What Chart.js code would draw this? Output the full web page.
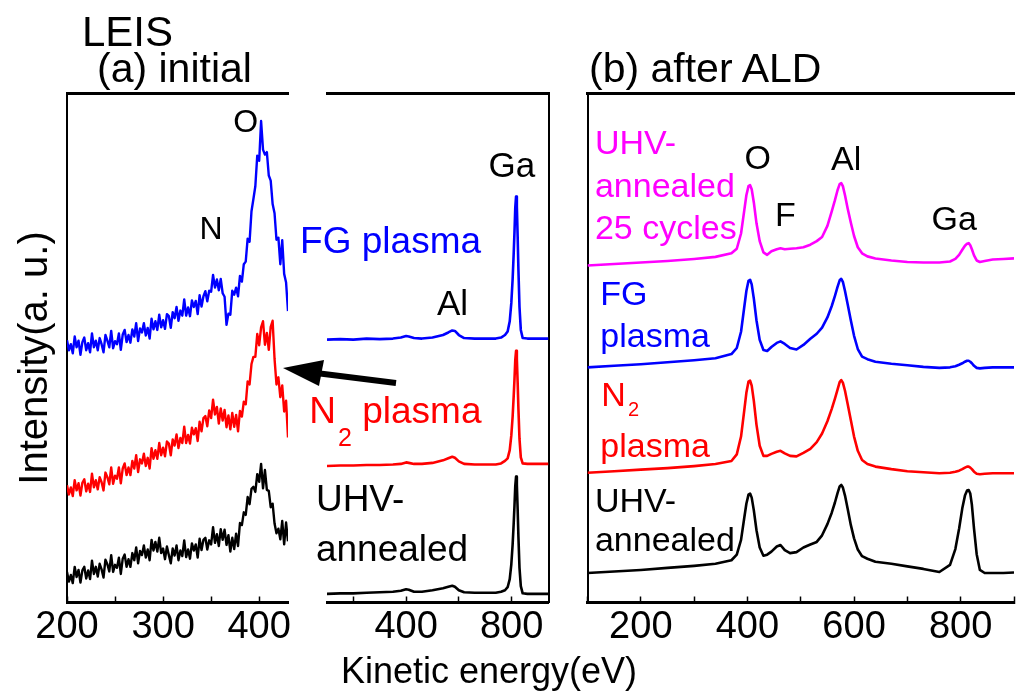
<!DOCTYPE html>
<html><head><meta charset="utf-8">
<script src="https://cdn.jsdelivr.net/npm/chart.js@4/dist/chart.umd.min.js"></script>
<style>
body{margin:0;background:#fff;}
#wrap{position:relative;width:1022px;height:693px;overflow:hidden;font-family:"Liberation Sans",Arial,sans-serif;color:#000;background:#fff;}
canvas{position:absolute;left:0;top:0;}
svg{position:absolute;left:0;top:0;}
.t{position:absolute;white-space:nowrap;line-height:1;}
</style></head><body>
<div id="wrap">
<canvas id="cA" width="1022" height="693"></canvas>
<canvas id="cB" width="1022" height="693"></canvas>
<canvas id="cC" width="1022" height="693"></canvas>
<svg width="1022" height="693">
  <line x1="396" y1="383" x2="316" y2="373" stroke="#000" stroke-width="6"/>
  <polygon points="283,368 324,360 319,386" fill="#000"/>
</svg>
<div class="t" style="left:82px;top:11px;font-size:42px">LEIS</div>
<div class="t" style="left:97px;top:48px;font-size:41px">(a) initial</div>
<div class="t" style="left:589px;top:48px;font-size:41px">(b) after ALD</div>
<div class="t" style="left:489px;top:653px;font-size:36px;transform:translateX(-50%)">Kinetic energy(eV)</div>
<div class="t" style="left:33px;top:358px;font-size:40px;transform:translate(-50%,-50%) rotate(-90deg)">Intensity(a. u.)</div>
</div>
<script>
// ---------- DATA ----------
// (a) initial, zoomed region 200-430 eV (2 eV steps)
const leftEnergy = [200,202,204,206,208,210,212,214,216,218,220,222,224,226,228,230,232,234,236,238,240,242,244,246,248,250,252,254,256,258,260,262,264,266,268,270,272,274,276,278,280,282,284,286,288,290,292,294,296,298,300,302,304,306,308,310,312,314,316,318,320,322,324,326,328,330,332,334,336,338,340,342,344,346,348,350,352,354,356,358,360,362,364,366,368,370,372,374,376,378,380,382,384,386,388,390,392,394,396,398,400,402,404,406,408,410,412,414,416,418,420,422,424,426,428,430];
const leftFG = [51.5,49.5,50.7,48.9,52.2,50.1,51.4,48.6,51.1,52.0,49.5,50.9,49.1,52.8,50.1,51.4,49.5,51.9,50.7,49.1,52.5,51.4,50.1,53.3,49.9,51.3,50.7,52.8,49.6,52.6,53.5,51.1,52.5,51.0,53.6,52.2,54.8,51.3,53.8,53.0,54.8,52.4,53.9,51.8,55.7,53.6,55.2,53.5,56.5,54.0,55.4,53.7,56.6,56.2,53.9,57.0,55.8,58.0,55.3,57.3,56.3,59.5,56.3,57.9,56.2,59.3,58.0,59.2,56.6,60.3,58.1,60.1,61.1,59.1,61.2,61.0,64.3,61.8,63.4,61.3,63.5,60.7,60.0,54.5,56.7,56.5,61.2,60.4,61.8,60.1,64.1,63.0,66.4,66.9,71.4,70.8,76.8,79.2,81.7,87.7,86.7,94.5,88.9,87.9,88.4,83.8,82.8,78.2,76.4,71.2,71.6,66.4,71.1,64.5,62.8,57.2];
const leftN2 = [23.0,21.2,22.6,20.9,24.0,22.0,23.4,21.0,23.5,24.2,21.8,23.3,21.7,25.3,22.6,24.0,22.2,24.6,23.6,22.0,25.5,24.6,23.2,26.5,23.3,24.9,24.3,26.5,23.4,26.3,27.3,25.0,26.5,25.0,27.8,26.3,28.9,25.6,28.1,27.3,29.2,26.8,28.4,26.3,30.3,28.2,29.9,28.2,31.3,28.9,30.4,28.7,31.6,31.2,28.9,32.0,30.8,33.0,30.3,32.3,31.3,34.5,31.3,32.9,31.2,34.3,33.0,34.2,31.7,35.5,33.6,36.2,36.6,34.6,37.7,36.2,39.8,36.9,38.4,35.1,38.1,35.7,37.8,34.4,36.7,34.0,37.2,34.5,36.8,33.6,37.6,36.5,39.4,38.9,43.4,42.8,46.8,48.2,48.2,52.7,50.5,54.0,55.2,50.6,52.9,49.6,54.1,55.3,47.8,42.8,44.2,40.3,42.6,37.5,39.6,32.4];
const leftUHV = [6.0,4.1,5.4,3.8,7.0,5.0,6.4,3.9,6.3,7.0,4.7,6.3,4.6,8.2,5.6,7.0,5.1,7.6,6.5,4.9,8.4,7.5,6.1,9.3,6.0,7.4,6.8,8.8,5.6,8.6,9.4,7.0,8.5,7.0,9.7,8.3,10.8,7.7,10.1,9.3,11.2,8.8,10.4,8.3,12.3,10.2,11.9,10.0,12.7,9.7,10.6,8.5,11.0,9.3,7.7,10.6,9.2,11.2,8.3,10.2,9.1,12.2,8.9,10.4,8.6,11.6,10.2,11.4,8.8,12.5,10.3,12.3,12.7,10.4,12.2,11.4,14.8,11.7,13.4,11.1,14.4,12.3,14.3,11.3,13.2,10.0,12.7,10.5,13.5,11.1,15.6,15.2,17.7,17.2,20.7,19.3,22.3,22.7,21.7,25.2,23.7,27.2,22.4,26.0,22.1,21.9,18.7,19.4,15.5,13.6,14.5,12.4,16.0,11.4,15.7,12.0];

// (a) initial, full range 100-940 eV
const wideEnergy = [100,150,200,250,300,350,380,400,410,430,460,500,540,560,575,585,600,620,660,700,740,760,775,785,793,799,804,808,811,814,817,820,823,826,830,835,842,860,900,940];
const wideFG  = [51.6,51.7,51.6,51.8,51.7,51.8,52.0,52.3,52.2,51.9,51.8,52.0,52.5,53.0,53.4,53.3,52.5,51.9,51.8,51.8,51.8,52.0,52.5,53.2,55.2,58.8,63.5,68.5,72.7,77.5,79.7,77.7,71.9,65.2,58.0,53.5,51.9,51.8,51.8,51.8];
const wideN2  = [26.8,26.9,26.9,27.0,27.0,27.1,27.2,27.5,27.4,27.2,27.2,27.4,27.9,28.3,28.6,28.4,27.7,27.2,27.1,27.1,27.1,27.3,27.8,28.3,29.9,32.8,36.5,40.5,43.8,47.6,49.4,47.8,43.2,37.9,32.1,28.5,27.3,27.2,27.2,27.2];
const wideUHV = [1.7,1.8,1.8,1.9,2.0,2.1,2.3,2.6,2.5,2.1,2.1,2.4,2.8,3.1,3.3,3.1,2.4,2.0,1.9,1.9,1.9,2.1,2.4,3.0,4.6,7.5,11.4,15.5,19.0,22.9,24.7,23.1,18.3,12.8,6.8,3.2,1.8,1.7,1.7,1.7];

// (b) after ALD, 100-900 eV
const aldEnergy = [100,150,200,250,300,340,370,380,388,394,398,402,405,408,412,417,423,430,437,445,455,462,470,480,492,505,518,530,540,550,558,564,569,573,576,579,583,588,594,600,607,615,625,640,670,700,730,760,780,790,797,803,808,812,815,818,821,825,830,836,845,860,880,900];
const ald25  = [66.2,66.5,66.8,67.1,67.5,67.9,68.6,69.5,72.5,77.0,80.0,81.8,82.0,81.2,78.6,74.5,71.0,68.8,68.3,69.0,69.4,69.6,69.4,69.5,69.6,69.8,70.3,71.0,71.8,74.0,76.8,79.0,81.0,82.2,82.4,81.8,80.0,77.4,74.6,72.0,69.8,68.6,68.0,67.6,67.2,66.9,66.8,66.8,67.0,67.5,68.3,69.3,70.1,70.5,70.6,70.2,69.4,68.2,67.2,66.9,67.1,67.4,67.5,67.6];
const aldFG  = [46.2,46.5,46.8,47.2,47.6,48.0,48.8,50.0,53.2,58.0,61.2,63.2,63.4,62.5,59.7,55.4,51.6,49.6,49.4,50.2,51.0,51.3,50.8,50.0,49.7,50.6,51.8,52.8,54.0,56.0,58.2,60.2,62.0,63.3,63.6,63.0,61.2,58.6,55.4,52.4,49.8,48.3,47.8,47.3,46.9,46.6,46.3,46.1,46.2,46.4,46.7,47.0,47.3,47.5,47.5,47.3,47.0,46.5,46.1,46.0,46.1,46.2,46.2,46.2];
const aldN2  = [25.5,25.8,26.1,26.4,26.8,27.2,27.8,29.1,32.6,37.7,41.2,43.4,43.6,42.6,39.6,34.9,30.8,28.8,28.8,29.2,29.6,29.8,29.3,28.8,28.7,29.4,30.2,31.5,33.2,35.6,38.0,40.0,41.8,43.3,43.7,43.2,41.6,39.0,35.8,32.6,29.8,28.0,27.2,26.7,26.2,25.8,25.6,25.4,25.5,25.7,25.9,26.2,26.5,26.7,26.7,26.5,26.2,25.7,25.3,25.2,25.3,25.4,25.4,25.4];
const aldUHV = [5.8,6.1,6.4,6.8,7.2,7.6,8.3,9.4,12.3,16.6,19.4,21.2,21.4,20.6,18.1,14.2,10.8,9.2,9.4,10.0,11.0,11.3,10.3,9.7,9.9,10.8,11.4,11.9,13.2,15.4,17.6,19.6,21.5,22.8,23.1,22.6,21.0,18.4,15.2,12.6,10.4,9.1,8.6,8.0,7.6,7.1,6.6,6.0,7.4,10.5,14.5,18.5,21.0,22.0,22.1,21.4,19.2,14.5,9.5,6.4,5.8,5.8,5.8,5.9];

// tick marks and tick labels
const leftTicks = [200,250,300,350,400];
const leftTickLabels = [200,300,400];
const wideTicks = [200,400,600,800];
const wideTickLabels = [400,800];
const aldTicks = [100,200,300,400,500,600,700,800,900];
const aldTickLabels  = [200,400,600,800];

// ---------- STYLE / HELPERS ----------
const FONT = '"Liberation Sans", Arial, sans-serif';
const BLUE='#0000ff', RED='#ff0000', BLACK='#000000', MAG='#ff00ff';

function pts(xs, ys){ return xs.map((x,i)=>({x:x, y:ys[i]})); }
function ds(xs, ys, color, w){
  return {data: pts(xs, ys), borderColor: color, backgroundColor: color, borderWidth: w,
          pointRadius: 0, tension: 0, fill: false, borderJoinStyle:'round'};
}
function xBottom(min, max, marks, labels){
  return { type:'linear', position:'bottom', min:min, max:max,
    afterBuildTicks: s => { s.ticks = marks.map(v => ({value: v})); },
    afterFit: s => { s.height = 90.5; },
    border:{display:true, color:'#000', width:3},
    grid:{display:true, drawOnChartArea:false, drawTicks:true, tickLength:-6, tickWidth:1.5, tickColor:'#000', color:'#000'},
    ticks:{autoSkip:false, maxRotation:0, minRotation:0, padding:8,
      color:'#000', font:{family:FONT, size:38},
      callback: v => labels.includes(v) ? String(v) : ''}
  };
}
function xTop(min, max){
  return { type:'linear', position:'top', min:min, max:max,
    afterFit: s => { s.height = 0; },
    border:{display:true, color:'#000', width:3},
    grid:{display:false}, ticks:{display:false} };
}
function yFrame(pos, show){
  return { type:'linear', position:pos, min:0, max:100,
    afterFit: s => { s.width = 0; },
    border:{display:show, color:'#000', width:2},
    grid:{display:false}, ticks:{display:false} };
}
function labelPlugin(items){
  return { id:'peakLabels', afterDatasetsDraw(chart){
    const ctx = chart.ctx, xs = chart.scales.x, ys = chart.scales.y;
    ctx.save();
    for (const l of items){
      const px = xs.getPixelForValue(l.x), py = ys.getPixelForValue(l.y);
      ctx.font = `${l.size}px ${FONT}`;
      ctx.fillStyle = l.color || '#000';
      ctx.textAlign = l.align || 'center';
      ctx.textBaseline = 'middle';
      ctx.fillText(l.text, px, py);
      if (l.sub){
        const w = ctx.measureText(l.text).width;
        ctx.font = `${l.subSize}px ${FONT}`;
        ctx.textAlign = 'left';
        ctx.fillText(l.sub, px + w + 2, py + l.subDy);
        const ws = ctx.measureText(l.sub).width;
        if (l.after){
          ctx.font = `${l.size}px ${FONT}`;
          ctx.fillText(l.after, px + w + ws + 2, py);
        }
      }
    }
    ctx.restore();
  }};
}
function make(id, datasets, scales, padding, labels){
  return new Chart(document.getElementById(id), {
    type:'line',
    data:{datasets: datasets},
    options:{
      responsive:false, animation:false, events:[], devicePixelRatio:1,
      layout:{padding: padding},
      plugins:{legend:{display:false}, tooltip:{enabled:false}},
      scales: scales
    },
    plugins:[labelPlugin(labels)]
  });
}

// ---------- PANEL (a) left: 200-430 eV ----------
make('cA',
  [ds(leftEnergy, leftFG, BLUE, 2.4), ds(leftEnergy, leftN2, RED, 2.4), ds(leftEnergy, leftUHV, BLACK, 2.4)],
  { x: xBottom(200, 430, leftTicks, leftTickLabels), xt: xTop(200, 430), y: yFrame('left', true) },
  {left:67, right:734, top:93, bottom:0},
  [ {text:'O', x:386, y:94.1, size:32},
    {text:'N', x:350, y:73.1, size:32} ]
);

// ---------- PANEL (a) right: 100-940 eV ----------
make('cB',
  [ds(wideEnergy, wideFG, BLUE, 2.6), ds(wideEnergy, wideN2, RED, 2.6), ds(wideEnergy, wideUHV, BLACK, 2.6)],
  { x: xBottom(100, 940, wideTicks, wideTickLabels), xt: xTop(100, 940), y: yFrame('left', false), yr: yFrame('right', true) },
  {left:327, right:473.5, top:93, bottom:0},
  [ {text:'Ga', x:801, y:85.5, size:35},
    {text:'Al', x:576, y:58.4, size:35},
    {text:'FG plasma', x:-2, y:70.6, size:37, align:'left', color:BLUE},
    {text:'N', sub:'2', subSize:25, subDy:26, after:' plasma', x:33, y:37.2, size:37, align:'left', color:RED},
    {text:'UHV-', x:58, y:19.9, size:37, align:'left'},
    {text:'annealed', x:58, y:10.2, size:37, align:'left'} ]
);

// ---------- PANEL (b): 100-900 eV ----------
make('cC',
  [ds(aldEnergy, ald25, MAG, 2.6), ds(aldEnergy, aldFG, BLUE, 2.6), ds(aldEnergy, aldN2, RED, 2.6), ds(aldEnergy, aldUHV, BLACK, 2.6)],
  { x: xBottom(100, 900, aldTicks, aldTickLabels), xt: xTop(100, 900), y: yFrame('left', true) },
  {left:587.5, right:0, top:93.5, bottom:0},
  [ {text:'O', x:419.5, y:87.1, size:34},
    {text:'F', x:471, y:75.9, size:34},
    {text:'Al', x:585, y:86.9, size:34},
    {text:'Ga', x:788, y:75.1, size:34},
    {text:'UHV-', x:114, y:90.0, size:34, align:'left', color:MAG},
    {text:'annealed', x:114, y:81.6, size:34, align:'left', color:MAG},
    {text:'25 cycles', x:114, y:73.3, size:34, align:'left', color:MAG},
    {text:'FG', x:124, y:60.2, size:34, align:'left', color:BLUE},
    {text:'plasma', x:124, y:52.0, size:34, align:'left', color:BLUE},
    {text:'N', sub:'2', subSize:20, subDy:14, x:126, y:40.4, size:34, align:'left', color:RED},
    {text:'plasma', x:124, y:30.4, size:34, align:'left', color:RED},
    {text:'UHV-', x:114, y:19.6, size:34, align:'left'},
    {text:'annealed', x:114, y:12.0, size:34, align:'left'} ]
);
</script>
</body></html>
